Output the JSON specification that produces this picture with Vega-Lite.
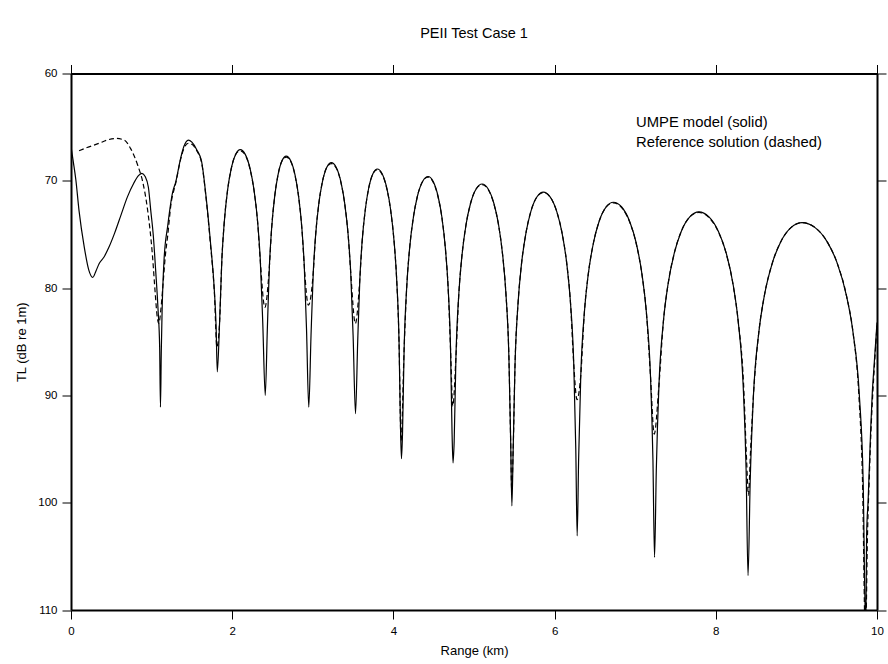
{
  "$schema": "https://vega.github.io/schema/vega-lite/v6.json",
  "autosize": {"type": "none"},
  "width": 806,
  "height": 536.5,
  "padding": {"left": 71, "top": 73.5, "right": 11, "bottom": 54},
  "background": "white",
  "title": {"text": "PEII Test Case 1", "fontSize": 14.5, "fontWeight": "normal", "font": "Liberation Sans", "color": "black", "anchor": "middle", "baseline": "alphabetic", "offset": 12},
  "config": {
    "view": {"stroke": null},
    "font": "Liberation Sans",
    "axis": {"grid": false, "domainColor": "black", "domainWidth": 2, "tickColor": "black", "tickWidth": 1, "tickSize": 9, "labelColor": "black", "titleColor": "black", "labelFont": "Liberation Sans", "titleFont": "Liberation Sans", "labelFontSize": 11.5, "titleFontSize": 13, "titleFontWeight": "normal", "labelFlush": false, "labelOverlap": false}
  },
  "datasets": {
    "umpe": [
      {"r": 0, "tl": 66.8}, {"r": 0.03, "tl": 68.3}, {"r": 0.06, "tl": 69.9}, {"r": 0.10, "tl": 72.8}, {"r": 0.165, "tl": 76.2}, {"r": 0.22, "tl": 78.3}, {"r": 0.27, "tl": 79.0}, {"r": 0.31, "tl": 78.4}, {"r": 0.35, "tl": 77.7}, {"r": 0.41, "tl": 77.1}, {"r": 0.47, "tl": 76.2}, {"r": 0.54, "tl": 74.9}, {"r": 0.62, "tl": 73.2}, {"r": 0.70, "tl": 71.5}, {"r": 0.78, "tl": 70.2}, {"r": 0.84, "tl": 69.5}, {"r": 0.88, "tl": 69.3}, {"r": 0.92, "tl": 69.6}, {"r": 0.96, "tl": 70.6}, {"r": 0.99, "tl": 72.8}, {"r": 1.02, "tl": 75.0}, {"r": 1.05, "tl": 78.3}, {"r": 1.08, "tl": 82.0}, {"r": 1.10, "tl": 85.5}, {"r": 1.11, "tl": 91.1},
      {"r": 1.12, "tl": 86.0}, {"r": 1.13, "tl": 82.2}, {"r": 1.155, "tl": 77.3}, {"r": 1.20, "tl": 74.2}, {"r": 1.26, "tl": 71.1}, {"r": 1.30, "tl": 70.1}, {"r": 1.36, "tl": 67.9}, {"r": 1.40, "tl": 66.8}, {"r": 1.456, "tl": 66.2}, {"r": 1.50, "tl": 66.4}, {"r": 1.56, "tl": 67.1}, {"r": 1.62, "tl": 68.2}, {"r": 1.67, "tl": 71.1}, {"r": 1.73, "tl": 75.7}, {"r": 1.78, "tl": 80.4}, {"r": 1.80, "tl": 83.5}, {"r": 1.815, "tl": 87.8},
      {"r": 1.8435, "tl": 83.2}, {"r": 1.872, "tl": 77.3}, {"r": 1.9005, "tl": 73.96}, {"r": 1.943, "tl": 70.85}, {"r": 1.986, "tl": 68.94}, {"r": 2.043, "tl": 67.54}, {"r": 2.10, "tl": 67.1}, {"r": 2.162, "tl": 67.54}, {"r": 2.224, "tl": 68.94}, {"r": 2.2705, "tl": 70.85}, {"r": 2.317, "tl": 73.96}, {"r": 2.348, "tl": 77.3}, {"r": 2.379, "tl": 83.2}, {"r": 2.41, "tl": 90.0},
      {"r": 2.436, "tl": 83.8}, {"r": 2.462, "tl": 77.9}, {"r": 2.488, "tl": 74.56}, {"r": 2.527, "tl": 71.45}, {"r": 2.566, "tl": 69.54}, {"r": 2.618, "tl": 68.14}, {"r": 2.67, "tl": 67.7}, {"r": 2.726, "tl": 68.14}, {"r": 2.782, "tl": 69.54}, {"r": 2.824, "tl": 71.45}, {"r": 2.866, "tl": 74.56}, {"r": 2.894, "tl": 77.9}, {"r": 2.922, "tl": 83.8}, {"r": 2.95, "tl": 91.1},
      {"r": 2.978, "tl": 84.4}, {"r": 3.006, "tl": 78.5}, {"r": 3.034, "tl": 75.16}, {"r": 3.076, "tl": 72.05}, {"r": 3.118, "tl": 70.14}, {"r": 3.174, "tl": 68.74}, {"r": 3.23, "tl": 68.3}, {"r": 3.29, "tl": 68.74}, {"r": 3.35, "tl": 70.14}, {"r": 3.395, "tl": 72.05}, {"r": 3.44, "tl": 75.16}, {"r": 3.47, "tl": 78.5}, {"r": 3.50, "tl": 84.4}, {"r": 3.53, "tl": 91.7},
      {"r": 3.557, "tl": 85.0}, {"r": 3.584, "tl": 79.1}, {"r": 3.611, "tl": 75.76}, {"r": 3.652, "tl": 72.65}, {"r": 3.692, "tl": 70.74}, {"r": 3.746, "tl": 69.34}, {"r": 3.80, "tl": 68.9}, {"r": 3.86, "tl": 69.34}, {"r": 3.92, "tl": 70.74}, {"r": 3.965, "tl": 72.65}, {"r": 4.01, "tl": 75.76}, {"r": 4.04, "tl": 79.1}, {"r": 4.07, "tl": 85.0}, {"r": 4.088, "tl": 92.9}, {"r": 4.10, "tl": 95.9},
      {"r": 4.113, "tl": 93.6}, {"r": 4.133, "tl": 85.7}, {"r": 4.166, "tl": 79.8}, {"r": 4.199, "tl": 76.46}, {"r": 4.249, "tl": 73.35}, {"r": 4.298, "tl": 71.44}, {"r": 4.364, "tl": 70.04}, {"r": 4.43, "tl": 69.6}, {"r": 4.492, "tl": 70.04}, {"r": 4.554, "tl": 71.44}, {"r": 4.601, "tl": 73.35}, {"r": 4.647, "tl": 76.46}, {"r": 4.678, "tl": 79.8}, {"r": 4.709, "tl": 85.7}, {"r": 4.728, "tl": 93.6}, {"r": 4.74, "tl": 96.3},
      {"r": 4.754, "tl": 94.3}, {"r": 4.776, "tl": 86.4}, {"r": 4.812, "tl": 80.5}, {"r": 4.848, "tl": 77.16}, {"r": 4.902, "tl": 74.05}, {"r": 4.956, "tl": 72.14}, {"r": 5.028, "tl": 70.74}, {"r": 5.10, "tl": 70.3}, {"r": 5.174, "tl": 70.74}, {"r": 5.248, "tl": 72.14}, {"r": 5.304, "tl": 74.05}, {"r": 5.359, "tl": 77.16}, {"r": 5.396, "tl": 80.5}, {"r": 5.433, "tl": 86.4}, {"r": 5.455, "tl": 94.3}, {"r": 5.47, "tl": 100.3},
      {"r": 5.486, "tl": 95.05}, {"r": 5.509, "tl": 87.15}, {"r": 5.548, "tl": 81.25}, {"r": 5.587, "tl": 77.91}, {"r": 5.646, "tl": 74.8}, {"r": 5.704, "tl": 72.89}, {"r": 5.782, "tl": 71.49}, {"r": 5.86, "tl": 71.05}, {"r": 5.944, "tl": 71.49}, {"r": 6.028, "tl": 72.89}, {"r": 6.091, "tl": 74.8}, {"r": 6.154, "tl": 77.91}, {"r": 6.196, "tl": 81.25}, {"r": 6.238, "tl": 87.15}, {"r": 6.263, "tl": 95.05}, {"r": 6.28, "tl": 103.1},
      {"r": 6.298, "tl": 96.0}, {"r": 6.325, "tl": 88.1}, {"r": 6.37, "tl": 82.2}, {"r": 6.415, "tl": 78.86}, {"r": 6.483, "tl": 75.75}, {"r": 6.55, "tl": 73.84}, {"r": 6.64, "tl": 72.44}, {"r": 6.73, "tl": 72.0}, {"r": 6.832, "tl": 72.44}, {"r": 6.934, "tl": 73.84}, {"r": 7.011, "tl": 75.75}, {"r": 7.087, "tl": 78.86}, {"r": 7.138, "tl": 82.2}, {"r": 7.189, "tl": 88.1}, {"r": 7.22, "tl": 96.0}, {"r": 7.24, "tl": 105.1},
      {"r": 7.262, "tl": 96.9}, {"r": 7.295, "tl": 89.0}, {"r": 7.35, "tl": 83.1}, {"r": 7.405, "tl": 79.76}, {"r": 7.488, "tl": 76.65}, {"r": 7.57, "tl": 74.74}, {"r": 7.68, "tl": 73.34}, {"r": 7.79, "tl": 72.9}, {"r": 7.912, "tl": 73.34}, {"r": 8.034, "tl": 74.74}, {"r": 8.126, "tl": 76.65}, {"r": 8.217, "tl": 79.76}, {"r": 8.278, "tl": 83.1}, {"r": 8.339, "tl": 89.0}, {"r": 8.376, "tl": 96.9}, {"r": 8.40, "tl": 106.8},
      {"r": 8.427, "tl": 97.9}, {"r": 8.467, "tl": 90.0}, {"r": 8.534, "tl": 84.1}, {"r": 8.601, "tl": 80.76}, {"r": 8.702, "tl": 77.65}, {"r": 8.802, "tl": 75.74}, {"r": 8.936, "tl": 74.34}, {"r": 9.07, "tl": 73.9}, {"r": 9.228, "tl": 74.34}, {"r": 9.386, "tl": 75.74}, {"r": 9.505, "tl": 77.65}, {"r": 9.623, "tl": 80.76}, {"r": 9.702, "tl": 84.1}, {"r": 9.781, "tl": 90.0}, {"r": 9.828, "tl": 97.9}, {"r": 9.86, "tl": 112}, {"r": 9.872, "tl": 102.8}, {"r": 9.89, "tl": 99.8}, {"r": 9.92, "tl": 93.5}, {"r": 9.94, "tl": 90.0}, {"r": 9.963, "tl": 87.3}, {"r": 10.0, "tl": 83.2}
    ],
    "ref": [
      {"r": 0.10, "tl": 67.2}, {"r": 0.20, "tl": 66.9}, {"r": 0.35, "tl": 66.5}, {"r": 0.45, "tl": 66.2}, {"r": 0.56, "tl": 66.05}, {"r": 0.66, "tl": 66.2}, {"r": 0.74, "tl": 67.0}, {"r": 0.83, "tl": 68.6}, {"r": 0.89, "tl": 70.1}, {"r": 0.95, "tl": 72.7}, {"r": 1.01, "tl": 76.9}, {"r": 1.045, "tl": 80.5}, {"r": 1.07, "tl": 82.7}, {"r": 1.09, "tl": 83.3}, {"r": 1.115, "tl": 82.0}, {"r": 1.14, "tl": 79.8}, {"r": 1.17, "tl": 77.0}, {"r": 1.20, "tl": 75.1}, {"r": 1.24, "tl": 72.2}, {"r": 1.30, "tl": 70.2}, {"r": 1.36, "tl": 68.0}, {"r": 1.40, "tl": 67.0}, {"r": 1.456, "tl": 66.5}, {"r": 1.50, "tl": 66.6}, {"r": 1.56, "tl": 67.2}, {"r": 1.62, "tl": 68.3}, {"r": 1.67, "tl": 71.2}, {"r": 1.73, "tl": 75.9}, {"r": 1.78, "tl": 80.6}, {"r": 1.81, "tl": 85.5},
      {"r": 1.8435, "tl": 83.2}, {"r": 1.872, "tl": 77.3}, {"r": 1.9005, "tl": 73.96}, {"r": 1.943, "tl": 70.85}, {"r": 1.986, "tl": 68.94}, {"r": 2.043, "tl": 67.54}, {"r": 2.10, "tl": 67.2}, {"r": 2.162, "tl": 67.6}, {"r": 2.224, "tl": 69.0}, {"r": 2.2705, "tl": 70.9}, {"r": 2.317, "tl": 74.0}, {"r": 2.348, "tl": 77.4}, {"r": 2.405, "tl": 81.8},
      {"r": 2.462, "tl": 77.9}, {"r": 2.488, "tl": 74.56}, {"r": 2.527, "tl": 71.45}, {"r": 2.566, "tl": 69.54}, {"r": 2.618, "tl": 68.14}, {"r": 2.67, "tl": 67.8}, {"r": 2.726, "tl": 68.2}, {"r": 2.782, "tl": 69.6}, {"r": 2.824, "tl": 71.5}, {"r": 2.866, "tl": 74.6}, {"r": 2.894, "tl": 77.9}, {"r": 2.945, "tl": 81.6},
      {"r": 3.006, "tl": 78.5}, {"r": 3.034, "tl": 75.16}, {"r": 3.076, "tl": 72.05}, {"r": 3.118, "tl": 70.14}, {"r": 3.174, "tl": 68.74}, {"r": 3.23, "tl": 68.4}, {"r": 3.29, "tl": 68.8}, {"r": 3.35, "tl": 70.2}, {"r": 3.395, "tl": 72.1}, {"r": 3.44, "tl": 75.2}, {"r": 3.47, "tl": 78.5}, {"r": 3.528, "tl": 83.3},
      {"r": 3.584, "tl": 79.1}, {"r": 3.611, "tl": 75.76}, {"r": 3.652, "tl": 72.65}, {"r": 3.692, "tl": 70.74}, {"r": 3.746, "tl": 69.34}, {"r": 3.80, "tl": 68.95}, {"r": 3.86, "tl": 69.4}, {"r": 3.92, "tl": 70.8}, {"r": 3.965, "tl": 72.7}, {"r": 4.01, "tl": 75.8}, {"r": 4.04, "tl": 79.1}, {"r": 4.07, "tl": 85.0}, {"r": 4.095, "tl": 94.2},
      {"r": 4.133, "tl": 85.7}, {"r": 4.166, "tl": 79.8}, {"r": 4.199, "tl": 76.46}, {"r": 4.249, "tl": 73.35}, {"r": 4.298, "tl": 71.44}, {"r": 4.364, "tl": 70.04}, {"r": 4.43, "tl": 69.65}, {"r": 4.492, "tl": 70.1}, {"r": 4.554, "tl": 71.5}, {"r": 4.601, "tl": 73.4}, {"r": 4.647, "tl": 76.5}, {"r": 4.678, "tl": 79.8}, {"r": 4.709, "tl": 85.7}, {"r": 4.737, "tl": 91.0},
      {"r": 4.776, "tl": 86.4}, {"r": 4.812, "tl": 80.5}, {"r": 4.848, "tl": 77.16}, {"r": 4.902, "tl": 74.05}, {"r": 4.956, "tl": 72.14}, {"r": 5.028, "tl": 70.74}, {"r": 5.10, "tl": 70.35}, {"r": 5.174, "tl": 70.8}, {"r": 5.248, "tl": 72.2}, {"r": 5.304, "tl": 74.1}, {"r": 5.359, "tl": 77.2}, {"r": 5.396, "tl": 80.5}, {"r": 5.433, "tl": 86.4}, {"r": 5.455, "tl": 94.3}, {"r": 5.468, "tl": 98.8},
      {"r": 5.486, "tl": 95.05}, {"r": 5.509, "tl": 87.15}, {"r": 5.548, "tl": 81.25}, {"r": 5.587, "tl": 77.91}, {"r": 5.646, "tl": 74.8}, {"r": 5.704, "tl": 72.89}, {"r": 5.782, "tl": 71.49}, {"r": 5.86, "tl": 71.1}, {"r": 5.944, "tl": 71.5}, {"r": 6.028, "tl": 72.9}, {"r": 6.091, "tl": 74.8}, {"r": 6.154, "tl": 77.9}, {"r": 6.196, "tl": 81.25}, {"r": 6.238, "tl": 87.15}, {"r": 6.278, "tl": 90.4},
      {"r": 6.325, "tl": 88.1}, {"r": 6.37, "tl": 82.2}, {"r": 6.415, "tl": 78.86}, {"r": 6.483, "tl": 75.75}, {"r": 6.55, "tl": 73.84}, {"r": 6.64, "tl": 72.44}, {"r": 6.73, "tl": 72.05}, {"r": 6.832, "tl": 72.5}, {"r": 6.934, "tl": 73.9}, {"r": 7.011, "tl": 75.8}, {"r": 7.087, "tl": 78.9}, {"r": 7.138, "tl": 82.2}, {"r": 7.189, "tl": 88.1}, {"r": 7.236, "tl": 93.6},
      {"r": 7.295, "tl": 89.0}, {"r": 7.35, "tl": 83.1}, {"r": 7.405, "tl": 79.76}, {"r": 7.488, "tl": 76.65}, {"r": 7.57, "tl": 74.74}, {"r": 7.68, "tl": 73.34}, {"r": 7.79, "tl": 72.95}, {"r": 7.912, "tl": 73.4}, {"r": 8.034, "tl": 74.8}, {"r": 8.126, "tl": 76.7}, {"r": 8.217, "tl": 79.8}, {"r": 8.278, "tl": 83.1}, {"r": 8.345, "tl": 89.0}, {"r": 8.382, "tl": 96.0}, {"r": 8.405, "tl": 99.3},
      {"r": 8.432, "tl": 95.0}, {"r": 8.467, "tl": 90.0}, {"r": 8.534, "tl": 84.1}, {"r": 8.601, "tl": 80.76}, {"r": 8.702, "tl": 77.65}, {"r": 8.802, "tl": 75.74}, {"r": 8.936, "tl": 74.34}, {"r": 9.07, "tl": 73.9}, {"r": 9.228, "tl": 74.34}, {"r": 9.386, "tl": 75.74}, {"r": 9.505, "tl": 77.65}, {"r": 9.623, "tl": 80.76}, {"r": 9.702, "tl": 84.1}, {"r": 9.775, "tl": 90.0}, {"r": 9.82, "tl": 97.9}, {"r": 9.857, "tl": 113}, {"r": 9.882, "tl": 103}, {"r": 9.905, "tl": 97.5}, {"r": 9.93, "tl": 92.5}, {"r": 9.95, "tl": 89.5}, {"r": 9.97, "tl": 87.0}, {"r": 10.0, "tl": 83.5}
    ],
    "notes": [
      {"r": 7.01, "tl": 64.6, "t": "UMPE model (solid)"},
      {"r": 7.01, "tl": 66.5, "t": "Reference solution (dashed)"}
    ]
  },
  "layer": [
    {
      "data": {"name": "ref"},
      "mark": {"type": "line", "color": "black", "strokeWidth": 1.2, "strokeDash": [5, 3], "interpolate": "monotone", "clip": true},
      "encoding": {
        "x": {"field": "r", "type": "quantitative", "scale": {"domain": [0, 10], "nice": false, "zero": false},
              "axis": {"orient": "top", "values": [0, 2, 4, 6, 8, 10], "labels": false, "title": null}},
        "y": {"field": "tl", "type": "quantitative", "scale": {"domain": [60, 110], "reverse": true, "nice": false, "zero": false},
              "axis": {"orient": "right", "values": [60, 70, 80, 90, 100, 110], "labels": false, "title": null}}
      }
    },
    {
      "data": {"name": "umpe"},
      "mark": {"type": "line", "color": "black", "strokeWidth": 1.2, "interpolate": "monotone", "clip": true},
      "encoding": {
        "x": {"field": "r", "type": "quantitative",
              "axis": {"orient": "bottom", "values": [0, 2, 4, 6, 8, 10], "format": "d", "title": "Range (km)", "labelPadding": 6, "titlePadding": 8}},
        "y": {"field": "tl", "type": "quantitative",
              "axis": {"orient": "left", "values": [60, 70, 80, 90, 100, 110], "format": "d", "title": "TL (dB re 1m)", "labelPadding": 5, "titlePadding": 9}}
      }
    },
    {
      "data": {"name": "notes"},
      "mark": {"type": "text", "align": "left", "baseline": "middle", "fontSize": 14.8, "font": "Liberation Sans", "color": "black"},
      "encoding": {
        "x": {"field": "r", "type": "quantitative", "axis": null},
        "y": {"field": "tl", "type": "quantitative", "axis": null},
        "text": {"field": "t", "type": "nominal"}
      }
    }
  ],
  "resolve": {"axis": {"x": "independent", "y": "independent"}}
}
